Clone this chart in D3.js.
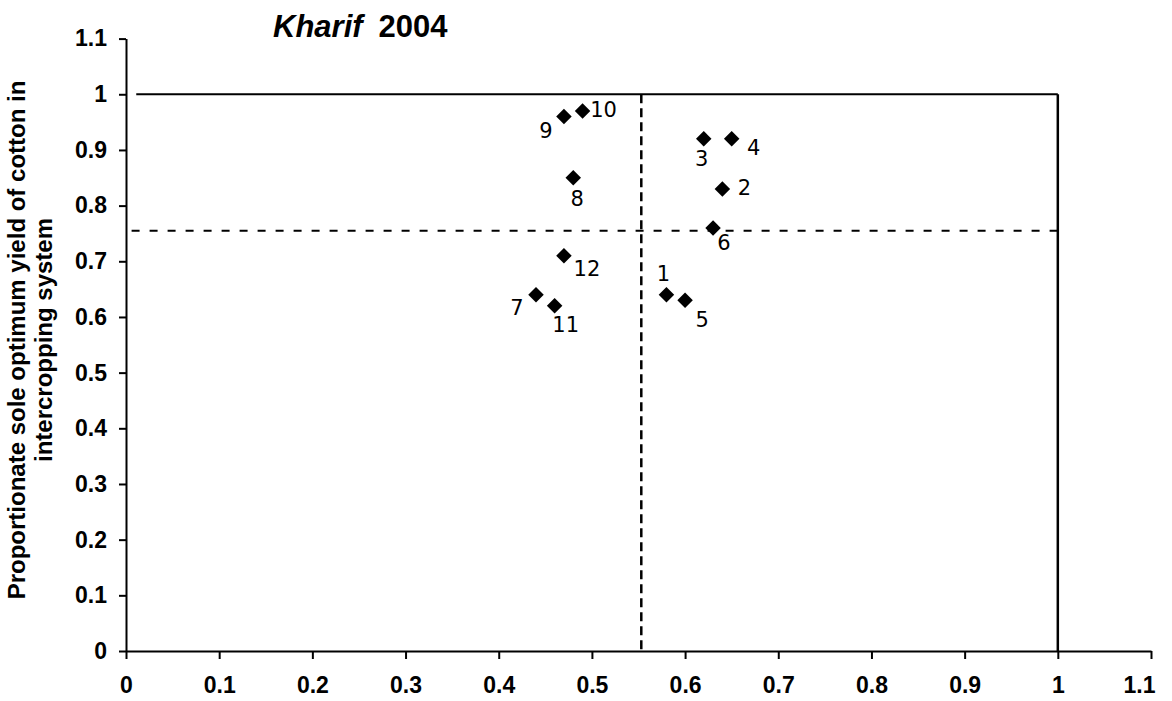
<!DOCTYPE html>
<html>
<head>
<meta charset="utf-8">
<script src="https://cdn.jsdelivr.net/npm/d3@7"></script>
<style>
  body { margin: 0; background: #fff; }
  svg { display: block; font-family: "Liberation Sans", Arial, sans-serif; }
  .axis text { font-size: 23px; font-weight: bold; fill: #000; }
  .axis line, .axis path { stroke: #000; stroke-width: 2; }
</style>
</head>
<body>
<div id="chart"></div>
<script>
// treatment numbers and their coordinates
var ids = [1, 2, 3, 4, 5, 6, 7, 8, 9, 10, 11, 12];
var xVals = [0.58, 0.64, 0.62, 0.65, 0.60, 0.63, 0.44, 0.48, 0.47, 0.49, 0.46, 0.47];
var yVals = [0.64, 0.83, 0.92, 0.92, 0.63, 0.76, 0.64, 0.85, 0.96, 0.97, 0.62, 0.71];
var xTicks = [0, 0.1, 0.2, 0.3, 0.4, 0.5, 0.6, 0.7, 0.8, 0.9, 1, 1.1];
var yTicks = [0, 0.1, 0.2, 0.3, 0.4, 0.5, 0.6, 0.7, 0.8, 0.9, 1, 1.1];
var xMean = 0.553, yMean = 0.755;

// where the hand-written numbers sit relative to each point
var labelOffsets = [[-3, -21], [22, -1], [-2, 20], [22, 9], [17, 20], [11, 15],
                    [-19, 13], [4, 21], [-18, 14], [21, -1], [11, 19], [23, 13]];

var W = 1172, H = 701;

var x = d3.scaleLinear().domain([0, 1.1]).range([126, 1151]);
var y = d3.scaleLinear().domain([0, 1.1]).range([651, 38.6]);

var svg = d3.select('#chart').append('svg')
    .attr('width', W)
    .attr('height', H);

var data = ids.map(function(d, i) {
  return {id: d, x: xVals[i], y: yVals[i], off: labelOffsets[i]};
});

// box lines at 1 / 1
svg.append('line')
    .attr('x1', x(0.011)).attr('x2', x(1))
    .attr('y1', y(1)).attr('y2', y(1))
    .attr('stroke', '#000').attr('stroke-width', 2);
svg.append('line')
    .attr('x1', x(1)).attr('x2', x(1))
    .attr('y1', y(1)).attr('y2', y(0))
    .attr('stroke', '#000').attr('stroke-width', 2.5);

// mean lines
svg.append('line')
    .attr('x1', x(0.006)).attr('x2', x(1))
    .attr('y1', y(yMean)).attr('y2', y(yMean))
    .attr('stroke', '#000').attr('stroke-width', 2)
    .attr('stroke-dasharray', '8,10');
svg.append('line')
    .attr('x1', x(xMean)).attr('x2', x(xMean))
    .attr('y1', y(1)).attr('y2', y(0))
    .attr('stroke', '#000').attr('stroke-width', 2.5)
    .attr('stroke-dasharray', '9,5');

// axes
svg.append('g')
    .attr('class', 'axis')
    .attr('transform', 'translate(0,' + y(0) + ')')
    .call(d3.axisBottom(x).tickValues(xTicks).tickSize(8).tickSizeOuter(0).tickPadding(18)
      .tickFormat(function(d) { return d3.format('')(+d.toFixed(1)); }))
    .selectAll('.tick text')
    .attr('dx', function(d) { return d === 1.1 ? -12 : 0; });

svg.append('g')
    .attr('class', 'axis')
    .attr('transform', 'translate(' + x(0) + ',0)')
    .call(d3.axisLeft(y).tickValues(yTicks).tickSize(7).tickSizeOuter(0).tickPadding(12)
      .tickFormat(function(d) { return d3.format('')(+d.toFixed(1)); }));

// points
var pts = svg.append('g').selectAll('g')
    .data(data)
    .enter().append('g')
    .attr('transform', function(d) { return 'translate(' + x(d.x) + ',' + y(d.y) + ')'; });

pts.append('path')
    .attr('d', d3.symbol().type(d3.symbolSquare).size(120))
    .attr('transform', 'rotate(45)')
    .attr('fill', '#000');

pts.append('text')
    .attr('x', function(d) { return d.off[0]; })
    .attr('y', function(d) { return d.off[1]; })
    .attr('text-anchor', 'middle')
    .attr('dominant-baseline', 'central')
    .attr('font-family', '"DejaVu Sans", sans-serif')
    .attr('font-size', 21)
    .text(function(d) { return d.id; });

// title
var title = svg.append('text')
    .attr('x', 273)
    .attr('y', 37)
    .attr('font-size', 31)
    .attr('font-weight', 'bold');
title.append('tspan').attr('font-style', 'italic').text('Kharif');
title.append('tspan').attr('dx', 16).text('2004');

// y axis title
var yl = svg.append('text')
    .attr('transform', 'translate(0,340) rotate(-90)')
    .attr('text-anchor', 'middle')
    .attr('font-size', 24)
    .attr('font-weight', 'bold');
yl.append('tspan').attr('x', 0).attr('y', 25).text('Proportionate sole optimum yield of cotton in');
yl.append('tspan').attr('x', 0).attr('y', 52).text('intercropping system');
</script>
</body>
</html>
